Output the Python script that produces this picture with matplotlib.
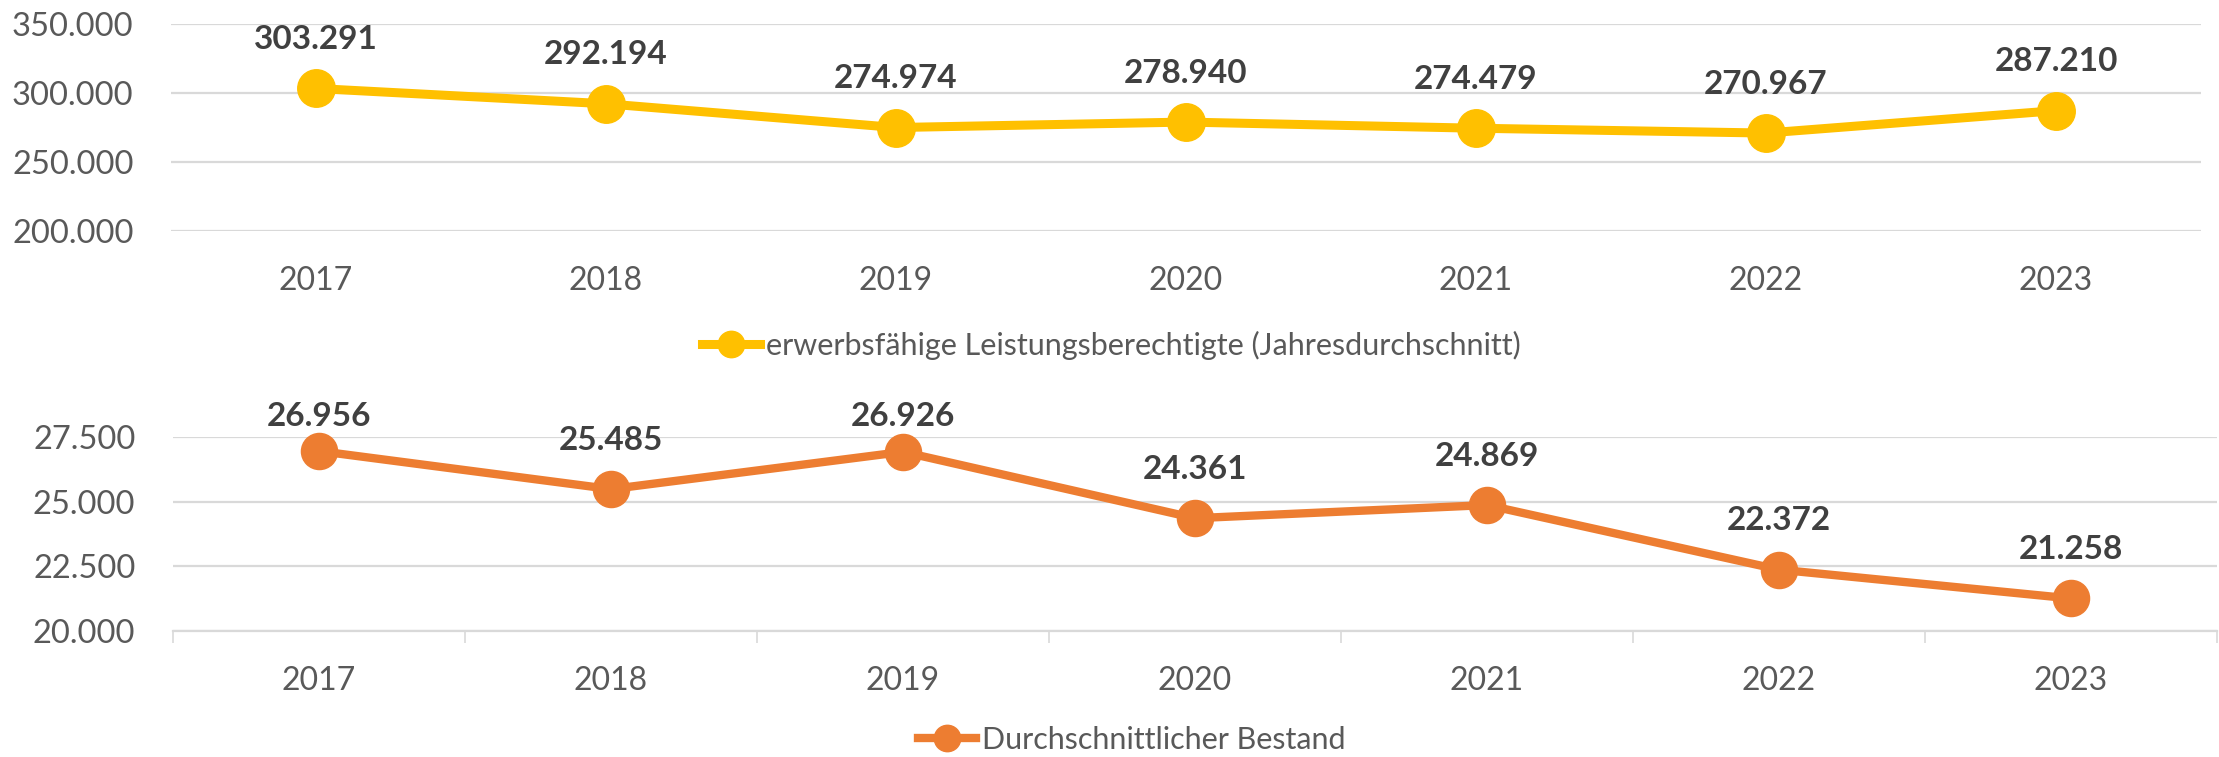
import matplotlib
matplotlib.use("Agg")
import matplotlib.pyplot as plt
from matplotlib.lines import Line2D
from matplotlib.ticker import FuncFormatter, FixedLocator

plt.rcParams['font.family'] = ['Lato', 'DejaVu Sans']

years = ["2017", "2018", "2019", "2020", "2021", "2022", "2023"]
elb_values = [303291, 292194, 274974, 278940, 274479, 270967, 287210]
bestand_values = [26956, 25485, 26926, 24361, 24869, 22372, 21258]
elb_label = "erwerbsfähige Leistungsberechtigte (Jahresdurchschnitt)"
bestand_label = "Durchschnittlicher Bestand"
elb_yticks = [200000, 250000, 300000, 350000]
bestand_yticks = [20000, 22500, 25000, 27500]

W, H, DPI = 2219, 757, 100
fig = plt.figure(figsize=(W / DPI, H / DPI), dpi=DPI)

TICK_C = "#595959"
LABEL_C = "#404040"
GRID_C = "#D9D9D9"


def de_fmt(v, pos=None):
    return f"{int(round(v)):,}".replace(",", ".")


def setup(ax, values, yticks, color, ms, lw, boundary_ticks):
    x = list(range(len(values)))
    ax.plot(x, values, color=color, lw=lw, marker="o", ms=ms, zorder=3,
            solid_capstyle="round", clip_on=False)
    ax.set_xlim(-0.5, len(values) - 0.5)
    ax.set_ylim(yticks[0], yticks[-1])
    ax.yaxis.set_major_locator(FixedLocator(yticks))
    ax.yaxis.set_major_formatter(FuncFormatter(de_fmt))
    ax.grid(axis="y", color=GRID_C, lw=1.6, zorder=0)
    ax.set_axisbelow(True)
    for s in ["top", "right", "left"]:
        ax.spines[s].set_visible(False)
    ax.tick_params(axis="y", length=0, pad=27, labelsize=23.5, labelcolor=TICK_C)
    ax.set_xticks(x)
    ax.set_xticklabels(years)
    if boundary_ticks:
        ax.spines["bottom"].set_color(GRID_C)
        ax.spines["bottom"].set_linewidth(1.6)
        ax.set_xticks([i - 0.5 for i in range(len(values) + 1)], minor=True)
        ax.tick_params(axis="x", which="minor", length=8.6, width=1.2, color=GRID_C)
        ax.tick_params(axis="x", which="major", length=0, pad=25, labelsize=23,
                       labelcolor=TICK_C)
    else:
        ax.spines["bottom"].set_visible(False)
        ax.tick_params(axis="x", which="major", length=0, pad=25, labelsize=23,
                       labelcolor=TICK_C)
    return x


ax1 = fig.add_axes([171 / W, 1 - 231 / H, 2030 / W, 207 / H])
x1 = setup(ax1, elb_values, elb_yticks, "#FFC000", 27, 6.5, False)

ax2 = fig.add_axes([173 / W, 1 - 631 / H, 2044 / W, 194 / H])
x2 = setup(ax2, bestand_values, bestand_yticks, "#ED7D31", 26, 6.0, True)

fig.canvas.draw()


def add_labels(ax, x, values, max_above_top_px):
    top_px = ax.transAxes.transform((0, 1))[1]
    for xi, v in zip(x, values):
        py = ax.transData.transform((xi, v))[1]
        target = min(py + 49, top_px + max_above_top_px)
        off_pt = (target - py) * 72 / DPI
        ax.annotate(de_fmt(v), (xi, v), xytext=(0, off_pt), textcoords="offset points",
                    ha="center", va="center", fontsize=24, fontweight="bold",
                    color=LABEL_C, annotation_clip=False, zorder=4)


add_labels(ax1, x1, elb_values, 200)
add_labels(ax2, x2, bestand_values, 20)

h1 = Line2D([], [], color="#FFC000", lw=6.5, marker="o", ms=19)
fig.legend(handles=[h1], labels=[elb_label], loc="center", bbox_to_anchor=(0.501, 1 - 345 / H),
           frameon=False, fontsize=22, labelcolor=TICK_C, handlelength=1.9,
           handletextpad=0.2, borderpad=0)
h2 = Line2D([], [], color="#ED7D31", lw=6.0, marker="o", ms=19)
fig.legend(handles=[h2], labels=[bestand_label], loc="center", bbox_to_anchor=(0.51, 1 - 740 / H),
           frameon=False, fontsize=22, labelcolor=TICK_C, handlelength=1.9,
           handletextpad=0.2, borderpad=0)

fig.savefig("out.png", dpi=DPI, facecolor="white")
